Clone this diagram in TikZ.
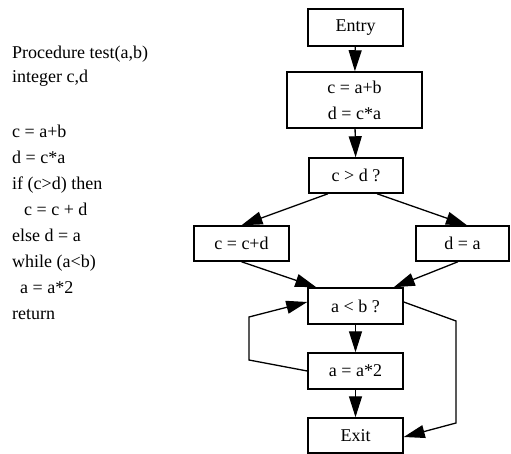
\documentclass[tikz,border=0pt]{standalone}
\usepackage{fontspec}
\setmainfont{Liberation Serif}
\usetikzlibrary{arrows.meta,calc}
\begin{document}
\begin{tikzpicture}[x=1pt,y=-1pt,
  every node/.style={font=\fontsize{18}{21}\selectfont, inner sep=0pt},
  blk/.style={draw, line width=1.5pt, minimum width=95pt, minimum height=36pt, align=center},
  code/.style={anchor=base west},
  arr/.style={line width=1.3pt, -{Triangle[length=21pt,width=13pt]}}]
\useasboundingbox (0,0) rectangle (511,454);

% source listing
\node[code] (p1) at (12,58.5)  {Procedure test(a,b)};
\node[code] (p2) at (12,82.5)  {integer c,d};
\node[code] (p3) at (12,137.5) {c = a+b};
\node[code] (p4) at (12,163.5) {d = c*a};
\node[code] (p5) at (12,189.5) {if (c>d) then};
\node[code] (p6) at (24,215.5) {c = c + d};
\node[code] (p7) at (12,241.5) {else d = a};
\node[code] (p8) at (12,267.5) {while (a<b)};
\node[code] (p9) at (20,293.5) {a = a*2};
\node[code] (p10) at (12,319.5) {return};

% flow graph blocks
\node[blk, minimum height=37pt] (entry) at (355.5,27.5) {Entry};
\node[blk, minimum width=135pt, minimum height=56pt, font=\fontsize{18}{26}\selectfont] (init) at (354.5,100) {c = a+b\\d = c*a};
\node[blk, minimum width=94pt, minimum height=35pt] (cond) at (356,175.5) {c > d ?};
\node[blk, minimum height=35pt] (then) at (241.5,243.5) {c = c+d};
\node[blk, minimum width=93pt, minimum height=35pt] (else) at (462.5,243.5) {d = a};
\node[blk] (loop) at (355.5,306) {a < b ?};
\node[blk] (body) at (355.5,371) {a = a*2};
\node[blk, minimum height=35pt] (exit) at (355.5,435.5) {Exit};

% bends of the two loop edges
\coordinate (lb) at (249,360);
\coordinate (lt) at (249,317);
\coordinate (rt) at (456,321);
\coordinate (rb) at (456,423);

% edges
\draw[arr] (entry) -- (init);
\draw[arr] (init) -- (cond);
\draw[arr] ($(cond.south)+(-28,0)$) -- (then.north);
\draw[arr] ($(cond.south)+(21,0)$) -- ($(else.north)+(4.5,0)$);
\draw[arr] (then.south) -- ($(loop.north west)+(9,0)$);
\draw[arr] ($(else.south)+(-4.5,0)$) -- ($(loop.north east)+(-10,0)$);
\draw[arr] (loop) -- (body);
\draw[arr] (body) -- (exit);
\draw[arr] (body.west) -- (lb) -- (lt) -- ($(loop.west)+(0,-4)$);
\draw[arr] ($(loop.east)+(0,-4)$) -- (rt) -- (rb) -- ($(exit.east)+(0,1.5)$);
\end{tikzpicture}
\end{document}
